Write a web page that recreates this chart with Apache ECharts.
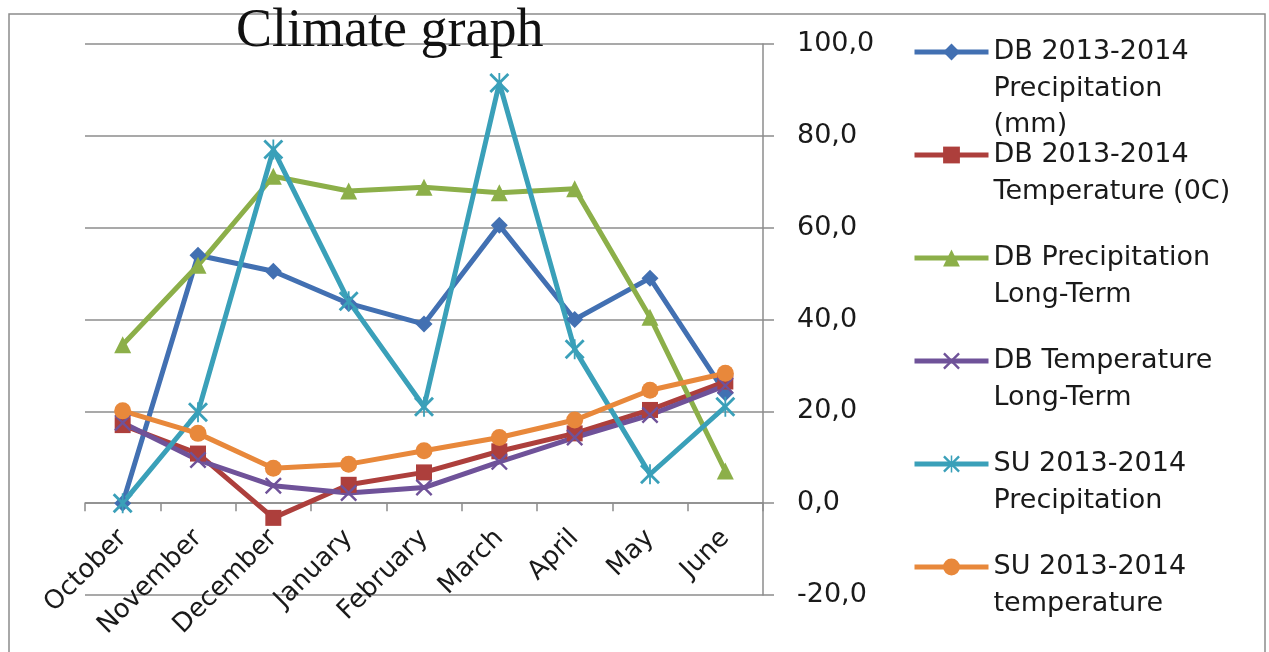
<!DOCTYPE html>
<html>
<head>
<meta charset="utf-8">
<script src="https://cdn.jsdelivr.net/npm/echarts@6/dist/echarts.min.js"></script>
<style>
html,body{margin:0;padding:0;background:#fff;}
#chart{width:1269px;height:652px;}
</style>
</head>
<body>
<div id="chart"></div>
<script>
const categories = ['October','November','December','January','February','March','April','May','June'];
const dbPrecip   = [0, 54, 50.5, 43.5, 39, 60.5, 40, 49, 24];
const dbTemp     = [17, 10.8, -3.2, 4, 6.7, 11.3, 15.2, 20.3, 26.5];
const dbPrecipLT = [34.5, 51.8, 71.2, 68, 68.8, 67.6, 68.5, 40.5, 7];
const dbTempLT   = [17.5, 9.4, 3.8, 2.2, 3.4, 9, 14.3, 19.2, 25.6];
const suPrecip   = [0, 19.8, 77, 44, 21, 91.5, 33.5, 6.3, 21];
const suTemp     = [20.1, 15.2, 7.6, 8.5, 11.4, 14.3, 18.1, 24.6, 28.3];
const yMin = -20, yMax = 100, yStep = 20;

const seriesNames = [
  'DB 2013-2014 Precipitation (mm)',
  'DB 2013-2014 Temperature (0C)',
  'DB Precipitation Long-Term',
  'DB Temperature Long-Term',
  'SU 2013-2014 Precipitation',
  'SU 2013-2014 temperature'
];
const legendLines = [
  ['DB 2013-2014','Precipitation','(mm)'],
  ['DB 2013-2014','Temperature (0C)'],
  ['DB Precipitation','Long-Term'],
  ['DB Temperature','Long-Term'],
  ['SU 2013-2014','Precipitation'],
  ['SU 2013-2014','temperature']
];
const colors = ['#4270B2','#AD3F3C','#8CAF49','#6F5299','#3AA0B9','#E8883B'];
const seriesData = [dbPrecip, dbTemp, dbPrecipLT, dbTempLT, suPrecip, suTemp];

const xSym = 'path://M1,0 L5,4 L9,0 L10,1 L6,5 L10,9 L9,10 L5,6 L1,10 L0,9 L4,5 L0,1 Z';
const starSym = 'path://M1,0 L5,4 L9,0 L10,1 L6,5 L10,9 L9,10 L5,6 L1,10 L0,9 L4,5 L0,1 Z M4.55,0 L5.45,0 L5.45,10 L4.55,10 Z';
const symbols = ['diamond','rect','triangle', xSym, starSym, 'circle'];
const symbolSizes = [17, 16, 17, 17, 20, 17];

const FONT = 'DejaVu Sans';
const LH = 36.5;
const legendCenters = [52, 155, 258, 361, 464, 567];

const gridTop = 44, gridBottom = 57, chartH = 652;
const plotH = chartH - gridTop - gridBottom;
// shift the category axis up so that it sits on the zero line
const zeroOffset = -plotH * (0 - yMin) / (yMax - yMin);

const legends = seriesNames.map((name, i) => {
  const lines = legendLines[i];
  const blanks = lines.length - 1;
  const text = '\n'.repeat(blanks) + lines.join('\n');
  const n = blanks + lines.length;
  return {
    data: [name],
    left: 912,
    top: legendCenters[i] - n * LH / 2,
    padding: 0,
    itemWidth: 74,
    itemHeight: 21,
    selectedMode: false,
    lineStyle: { width: 5 },
    formatter: () => text,
    textStyle: { fontFamily: FONT, fontSize: 27, color: '#1a1a1a', lineHeight: LH }
  };
});

const chart = echarts.init(document.getElementById('chart'));
chart.setOption({
  animation: false,
  backgroundColor: '#fff',
  title: {
    text: 'Climate graph',
    left: 236,
    top: 5,
    padding: 0,
    textStyle: { fontFamily: 'Liberation Serif', fontSize: 54, fontWeight: 'normal', color: '#111' }
  },
  graphic: [{
    type: 'rect', silent: true, z: -10,
    shape: { x: 9, y: 14, width: 1256, height: 700 },
    style: { fill: 'none', stroke: '#8c8c8c', lineWidth: 1.5 }
  }],
  legend: legends,
  grid: { left: 85, right: 506, top: gridTop, bottom: gridBottom, containLabel: false, outerBoundsMode: 'none' },
  xAxis: {
    type: 'category',
    data: categories,
    boundaryGap: true,
    position: 'bottom',
    offset: zeroOffset,
    axisLine: { onZero: false, lineStyle: { color: '#8c8c8c', width: 1.5 } },
    axisTick: { show: true, length: 8, lineStyle: { color: '#8c8c8c', width: 1.5 } },
    axisLabel: { rotate: 45, margin: 31, fontFamily: FONT, fontSize: 26, color: '#1a1a1a', interval: 0 },
    splitLine: { show: false }
  },
  yAxis: {
    type: 'value',
    position: 'right',
    min: yMin, max: yMax, interval: yStep,
    axisLine: { show: true, lineStyle: { color: '#8c8c8c', width: 1.5 } },
    axisTick: { show: true, length: 11, lineStyle: { color: '#8c8c8c', width: 1.5 } },
    axisLabel: {
      margin: 34, fontFamily: FONT, fontSize: 27, color: '#1a1a1a', align: 'left',
      formatter: v => v.toFixed(1).replace('.', ',')
    },
    splitLine: { show: true, lineStyle: { color: '#8c8c8c', width: 1.5 } }
  },
  series: seriesNames.map((name, i) => ({
    name,
    type: 'line',
    data: seriesData[i],
    symbol: symbols[i],
    symbolSize: symbolSizes[i],
    showAllSymbol: true,
    color: colors[i],
    lineStyle: { width: 5, color: colors[i] },
    itemStyle: { color: colors[i] },
    emphasis: { disabled: true }
  }))
});
</script>
</body>
</html>
